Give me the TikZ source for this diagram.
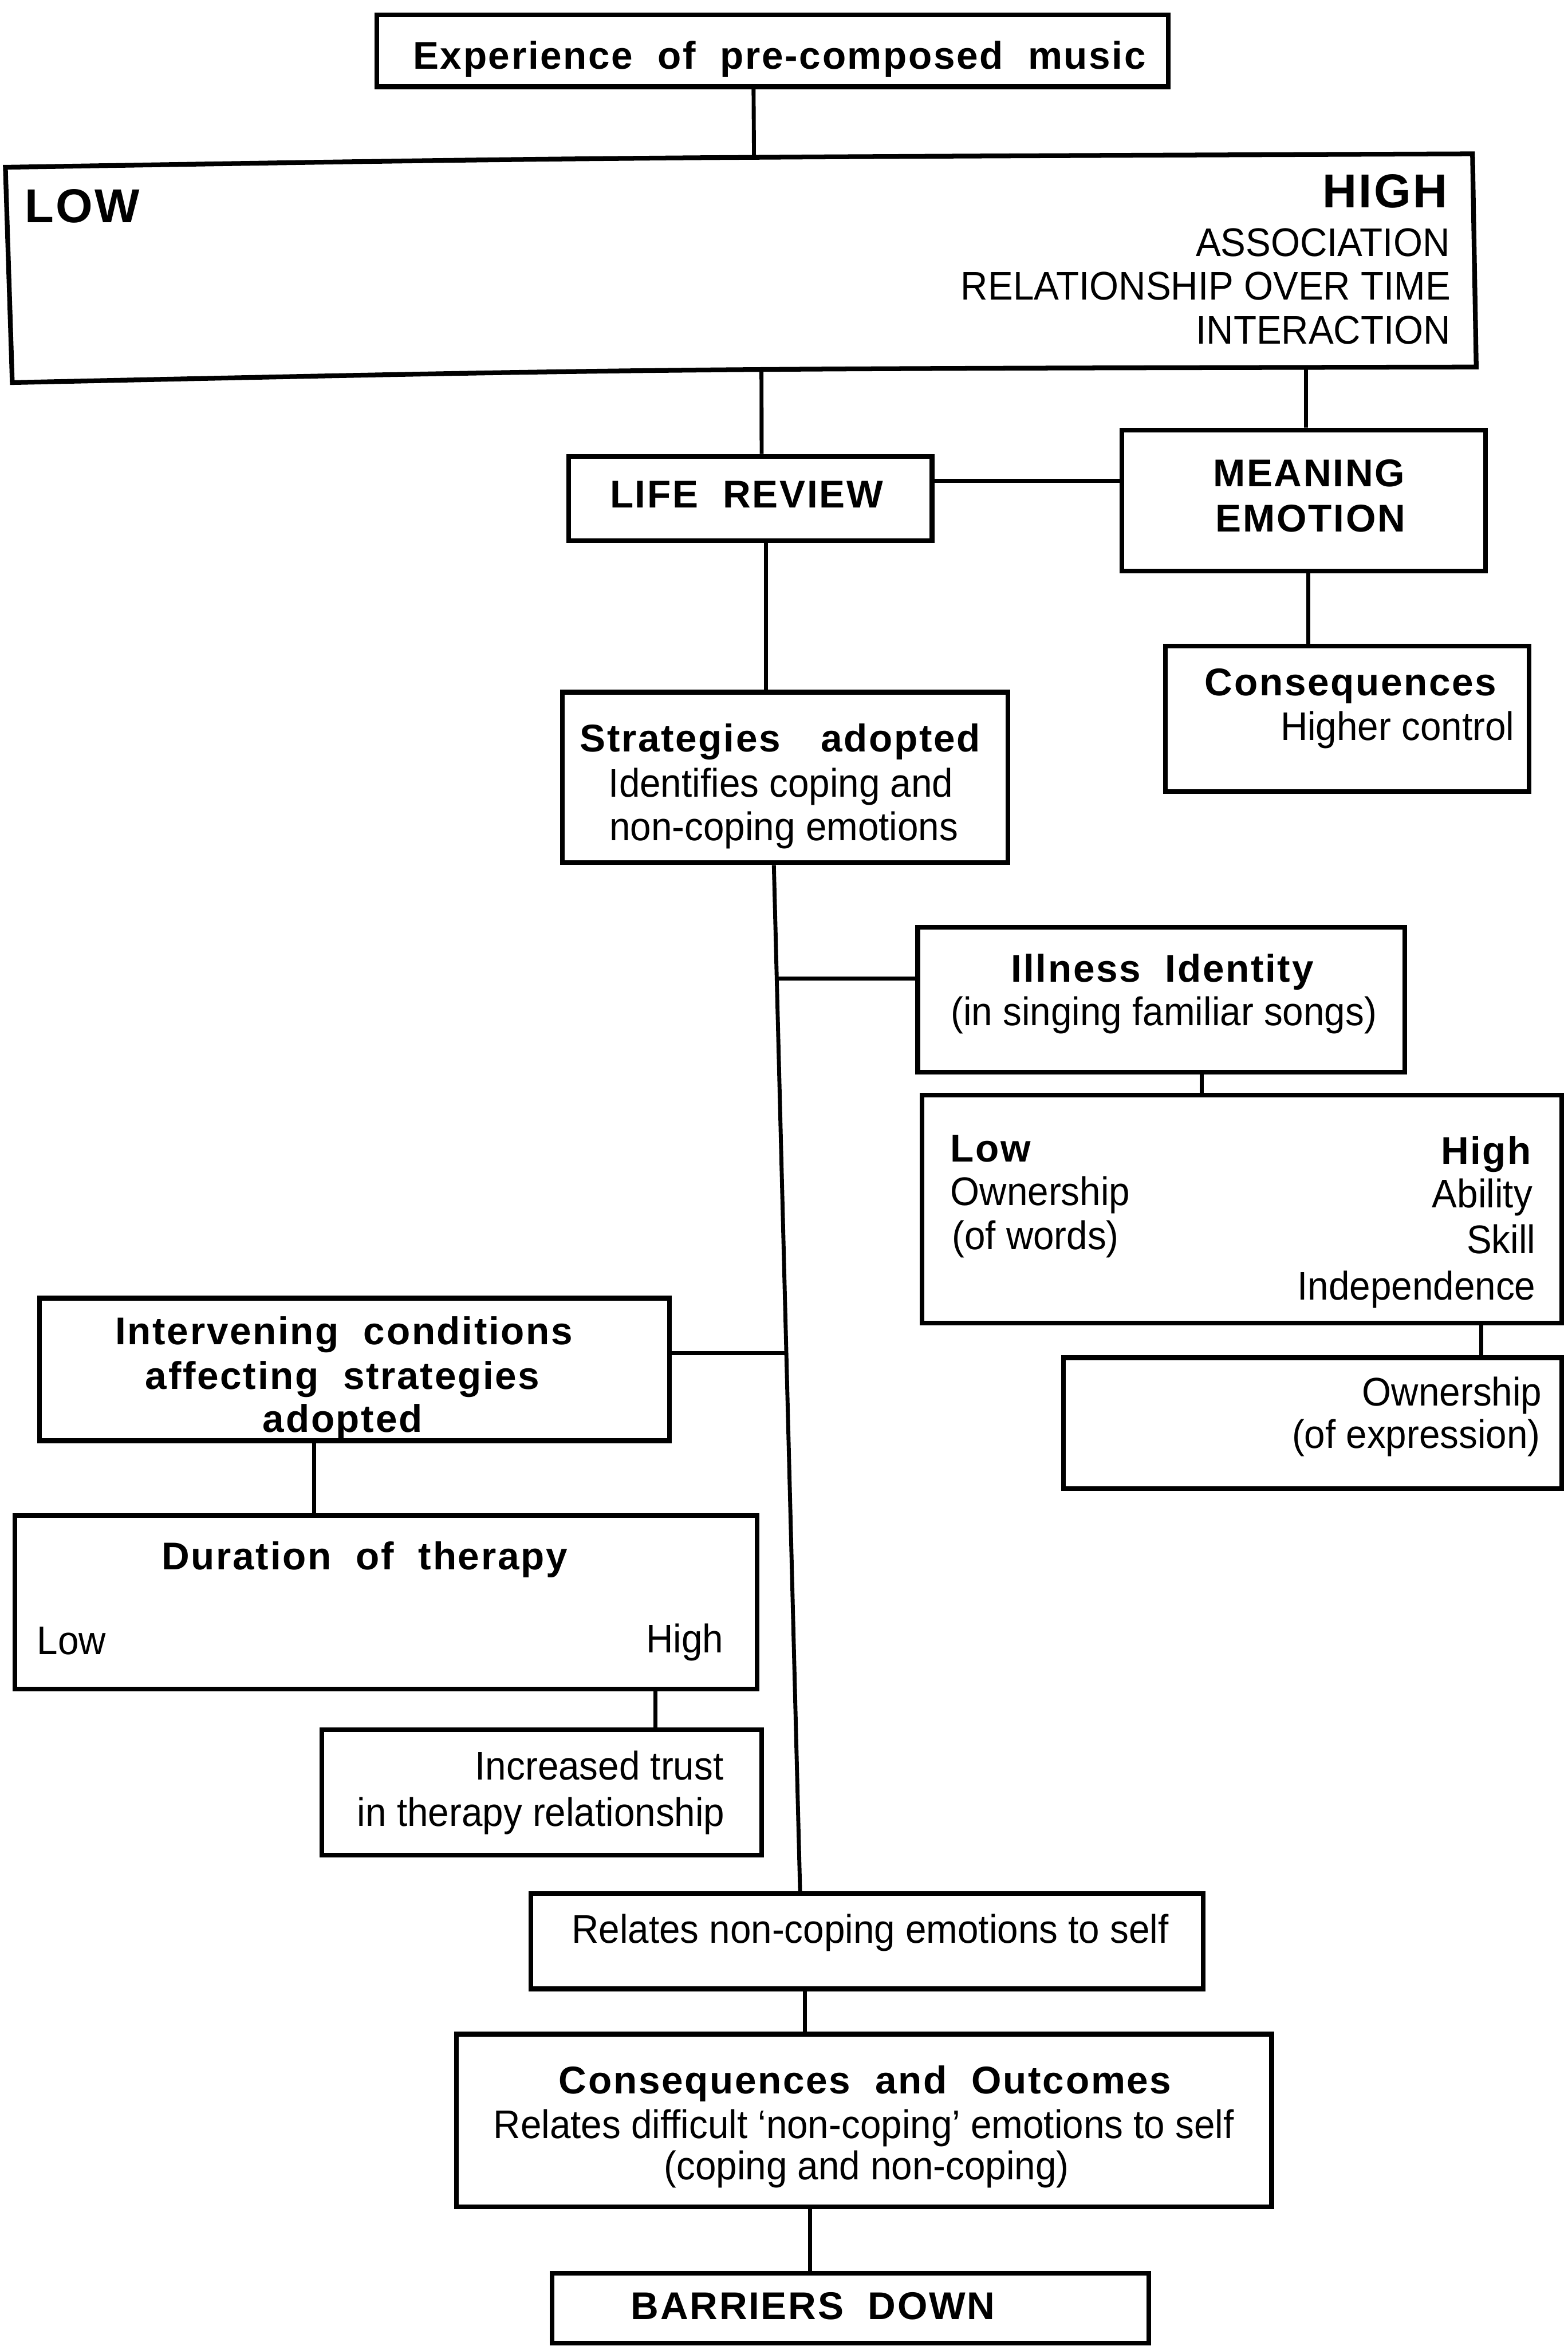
\documentclass[tikz,border=0pt]{standalone}
\usepackage{fontspec}
\setmainfont{Liberation Sans}
\newfontfamily\rgfont{Liberation Sans}[FakeStretch=0.94]
\newfontfamily\bdfont{Liberation Sans}[LetterSpace=4,WordSpace=2.0]
\usetikzlibrary{calc,fit}

\tikzset{
  bx/.style={draw, line width=1.8pt, inner sep=0pt, rectangle},
  conn/.style={line width=1.5pt},
  rg/.style={inner sep=0pt, font=\rgfont\fontsize{15.2}{16.6}\selectfont},
  bd/.style={inner sep=0pt, font=\bdfont\bfseries\fontsize{14.7}{16.6}\selectfont},
  bdl/.style={inner sep=0pt, font=\bdfont\bfseries\fontsize{18.1}{20}\selectfont},
}

\begin{document}
\begin{tikzpicture}[x=0.02cm,y=-0.02cm]
\fill[white] (0,0) rectangle (1048,1568);
\useasboundingbox (0,0) rectangle (1048,1568);

% ---------- boxes ----------
\node[bx, fit={(252,10)(781,58)}]        (top)   {};
\node[bx, fit={(380,305)(623,361.5)}]    (lr)    {};
\node[bx, fit={(750,287.4)(993,381.7)}]  (me)    {};
\node[bx, fit={(779,431.8)(1022,529)}]   (cons)  {};
\node[bx, fit={(376,462.6)(673.6,576.6)}] (strat) {};
\node[bx, fit={(613.4,619.7)(939,716.5)}] (ill)  {};
\node[bx, fit={(616.4,732)(1044,884.2)}] (lh)    {};
\node[bx, fit={(711,907.4)(1044,995)}]   (own)   {};
\node[bx, fit={(26.5,867.6)(447.5,963)}] (int)   {};
\node[bx, fit={(10,1013)(506,1129)}]     (dur)   {};
\node[bx, fit={(215,1156)(509,1240)}]    (trust) {};
\node[bx, fit={(355,1265.6)(804.2,1329.3)}] (rel) {};
\node[bx, fit={(305,1359.5)(850,1475)}]  (co)    {};
\node[bx, fit={(369,1519.5)(768,1566)}]  (bar)   {};

% the wide, slightly skewed LOW--HIGH band
\coordinate (bTL) at (3.6,111.8);
\coordinate (bTR) at (984.3,102.8);
\coordinate (bBR) at (986.8,245.3);
\coordinate (bBL) at (8.2,255.7);
\draw[line width=1.8pt, line join=miter]
  (bTL) .. controls (400,105.3) .. (bTR) -- (bBR)
  .. controls (434,246.5) .. (bBL) -- cycle;
\coordinate (bandtop) at (504,105.1);
\coordinate (bandl)   at (509,247);
\coordinate (bandr)   at (873,245.6);

% ---------- texts ----------
\node[bd, anchor=base] (t0) at (521,46) {Experience of pre-composed music};

\node[bdl, anchor=base west] (tlow)  at (16.3,148.8) {LOW};
\node[bdl, anchor=base east] (thigh) at (967.8,138.9) {HIGH};
\node[rg, anchor=base east] (ta1) at (969.4,171.3) {ASSOCIATION};
\node[rg, anchor=base east] (ta2) at (970,200.4) {RELATIONSHIP OVER TIME};
\node[rg, anchor=base east] (ta3) at (970,229.9) {INTERACTION};

\node[bd, anchor=base] (tlr)  at (499,339.4) {LIFE REVIEW};
\node[bd, anchor=base] (tme1) at (875,325.3) {MEANING};
\node[bd, anchor=base] (tme2) at (876,355.3) {EMOTION};

\node[bd, anchor=base west] (tc1) at (805,464.8) {Consequences};
\node[rg, anchor=base east] (tc2) at (1012.6,494.8) {Higher control};

\node[bd, anchor=base] (ts1) at (521.5,502.4) {Strategies\hspace{6pt} adopted};
\node[rg, anchor=base] (ts2) at (522,532.6) {Identifies coping and};
\node[rg, anchor=base] (ts3) at (524,561.8) {non-coping emotions};

\node[bd, anchor=base] (ti1) at (777,656.5) {Illness Identity};
\node[rg, anchor=base] (ti2) at (778,685.5) {(in singing familiar songs)};

\node[bd, anchor=base west] (tl1) at (635,776.6) {Low};
\node[rg, anchor=base west] (tl2) at (635,805.8) {Ownership};
\node[rg, anchor=base west] (tl3) at (636,835.2) {(of words)};
\node[bd, anchor=base east] (th1) at (1024,778) {High};
\node[rg, anchor=base east] (th2) at (1024.7,807) {Ability};
\node[rg, anchor=base east] (th3) at (1026.8,837.7) {Skill};
\node[rg, anchor=base east] (th4) at (1026.8,868.6) {Independence};

\node[rg, anchor=base east] (to1) at (1031,939.7) {Ownership};
\node[rg, anchor=base east] (to2) at (1030,968) {(of expression)};

\node[bd, anchor=base] (tn1) at (230,898.6) {Intervening conditions};
\node[bd, anchor=base] (tn2) at (229,928.5) {affecting strategies};
\node[bd, anchor=base] (tn3) at (229,957.4) {adopted};

\node[bd, anchor=base] (td1) at (243.7,1049) {Duration of therapy};
\node[rg, anchor=base west] (td2) at (24.5,1105.8) {Low};
\node[rg, anchor=base east] (td3) at (484,1104.6) {High};

\node[rg, anchor=base east] (tt1) at (484,1189.7) {Increased trust};
\node[rg, anchor=base east] (tt2) at (484.8,1220.6) {in therapy relationship};

\node[rg, anchor=base] (tr1) at (581.7,1298.5) {Relates non-coping emotions to self};

\node[bd, anchor=base] (tq1) at (578.3,1399.4) {Consequences and Outcomes};
\node[rg, anchor=base] (tq2) at (577.4,1429.1) {Relates difficult ‘non-coping’ emotions to self};
\node[rg, anchor=base] (tq3) at (579.3,1456.7) {(coping and non-coping)};

\node[bd, anchor=base] (tb1) at (543.5,1550) {BARRIERS DOWN};

% ---------- connectors ----------
\path ($(top.south west)!0.476!(top.south east)$) coordinate (p1);
\draw[conn] (p1) -- (bandtop);

\path ($(lr.north west)!0.531!(lr.north east)$) coordinate (p2);
\draw[conn] (bandl) -- (p2);

\path ($(me.north west)!0.506!(me.north east)$) coordinate (p3);
\draw[conn] (bandr) -- (p3);

\path ($(lr.north east)!0.30!(lr.south east)$) coordinate (p4);
\draw[conn] (p4) -- (p4 -| me.west);

\path ($(me.south west)!0.512!(me.south east)$) coordinate (p5);
\draw[conn] (p5) -- (p5 |- cons.north);

\path ($(lr.south west)!0.543!(lr.south east)$) coordinate (p6);
\draw[conn] (p6) -- (p6 |- strat.north);

% long trunk from the strategies box down to the self-relating box
\path ($(strat.south west)!0.475!(strat.south east)$) coordinate (m1);
\path ($(rel.north west)!0.401!(rel.north east)$) coordinate (m2);
\draw[conn] (m1) -- (m2);
\path ($(m1)!0.1108!(m2)$) coordinate (j1);
\path ($(m1)!0.4756!(m2)$) coordinate (j2);
\draw[conn] (j1) -- (j1 -| ill.west);
\draw[conn] (j2) -- (j2 -| int.east);

\path ($(ill.south west)!0.583!(ill.south east)$) coordinate (p7);
\draw[conn] (p7) -- (p7 |- lh.north);

\path ($(lh.south west)!0.871!(lh.south east)$) coordinate (p8);
\draw[conn] (p8) -- (p8 |- own.north);

\path ($(int.south west)!0.436!(int.south east)$) coordinate (p9);
\draw[conn] (p9) -- (p9 |- dur.north);

\path ($(dur.south west)!0.861!(dur.south east)$) coordinate (p10);
\draw[conn] (p10) -- (p10 |- trust.north);

\path ($(rel.south west)!0.408!(rel.south east)$) coordinate (p11);
\draw[conn] (p11) -- (p11 |- co.north);

\path ($(co.south west)!0.434!(co.south east)$) coordinate (p12);
\draw[conn] (p12) -- (p12 |- bar.north);

\end{tikzpicture}
\end{document}
